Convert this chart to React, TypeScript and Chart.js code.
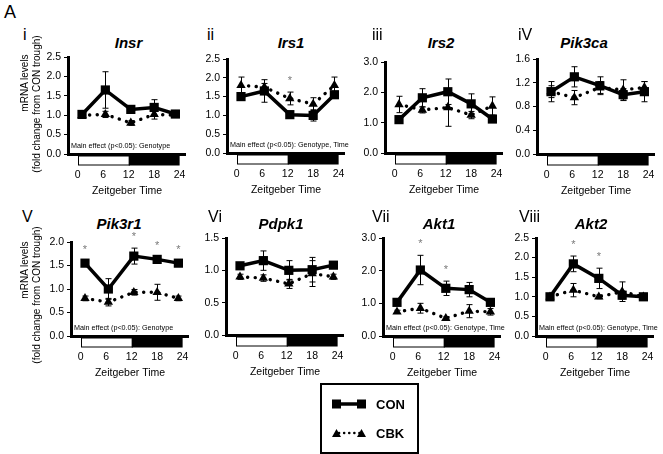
import React, { useEffect, useRef } from 'react';
import { Chart, registerables } from 'chart.js';

Chart.register(...registerables);

const FONT = '"Liberation Sans", Arial, Helvetica, sans-serif';

// ---------- data ----------
const zt = [1, 6.5, 12.5, 18, 23];
const xTicks = [0, 6, 12, 18, 24];
const genes = ['Insr', 'Irs1', 'Irs2', 'Pik3ca', 'Pik3r1', 'Pdpk1', 'Akt1', 'Akt2'];
const numerals = ['i', 'ii', 'iii', 'iV', 'V', 'Vi', 'Vii', 'Viii'];
const yMax = [2.5, 2.5, 3.0, 1.6, 2.0, 1.5, 3.0, 2.5];
const yStep = [0.5, 0.5, 1.0, 0.4, 0.5, 0.5, 1.0, 0.5];
const effects = [
  'Main effect (p<0.05): Genotype',
  'Main effect (p<0.05): Genotype, Time',
  '',
  '',
  'Main effect (p<0.05): Genotype',
  '',
  'Main effect (p<0.05): Genotype, Time',
  'Main effect (p<0.05): Genotype, Time',
];

const insrCON = [1.02, 1.65, 1.15, 1.2, 1.03];
const insrCONerr = [0.06, 0.47, 0.05, 0.2, 0.06];
const insrCBK = [1.0, 1.02, 0.8, 1.02, 1.0];
const insrCBKerr = [0.04, 0.08, 0.06, 0.12, 0.04];
const insrSig: number[] = [];

const irs1CON = [1.5, 1.65, 1.02, 1.0, 1.55];
const irs1CONerr = [0.1, 0.3, 0.05, 0.15, 0.08];
const irs1CBK = [1.8, 1.75, 1.45, 1.3, 1.8];
const irs1CBKerr = [0.22, 0.1, 0.17, 0.17, 0.22];
const irs1Sig = [2];

const irs2CON = [1.1, 1.82, 2.02, 1.62, 1.12];
const irs2CONerr = [0.08, 0.3, 0.42, 0.33, 0.08];
const irs2CBK = [1.6, 1.42, 1.5, 1.25, 1.55];
const irs2CBKerr = [0.27, 0.1, 0.62, 0.12, 0.3];
const irs2Sig: number[] = [];

const pik3caCON = [1.05, 1.3, 1.15, 1.0, 1.05];
const pik3caCONerr = [0.17, 0.17, 0.15, 0.1, 0.17];
const pik3caCBK = [1.05, 0.95, 1.12, 1.08, 1.12];
const pik3caCBKerr = [0.1, 0.12, 0.1, 0.17, 0.1];
const pik3caSig: number[] = [];

const pik3r1CON = [1.55, 1.0, 1.7, 1.63, 1.55];
const pik3r1CONerr = [0.05, 0.22, 0.17, 0.05, 0.05];
const pik3r1CBK = [0.8, 0.72, 0.93, 0.93, 0.8];
const pik3r1CBKerr = [0.05, 0.08, 0.06, 0.17, 0.05];
const pik3r1Sig = [0, 2, 3, 4];

const pdpk1CON = [1.07, 1.15, 1.0, 1.01, 1.08];
const pdpk1CONerr = [0.05, 0.15, 0.15, 0.19, 0.05];
const pdpk1CBK = [0.9, 0.88, 0.79, 0.95, 0.9];
const pdpk1CBKerr = [0.04, 0.05, 0.07, 0.2, 0.04];
const pdpk1Sig: number[] = [];

const akt1CON = [1.03, 2.02, 1.46, 1.42, 1.03];
const akt1CONerr = [0.06, 0.45, 0.22, 0.22, 0.06];
const akt1CBK = [0.74, 0.85, 0.54, 0.76, 0.74];
const akt1CBKerr = [0.05, 0.15, 0.05, 0.2, 0.1];
const akt1Sig = [1, 2];

const akt2CON = [1.0, 1.84, 1.47, 1.04, 1.0];
const akt2CONerr = [0.04, 0.2, 0.26, 0.1, 0.04];
const akt2CBK = [1.0, 1.17, 1.0, 1.13, 1.0];
const akt2CBKerr = [0.04, 0.17, 0.05, 0.25, 0.04];
const akt2Sig = [1, 2];

const conSeries = [insrCON, irs1CON, irs2CON, pik3caCON, pik3r1CON, pdpk1CON, akt1CON, akt2CON];
const conErrs = [insrCONerr, irs1CONerr, irs2CONerr, pik3caCONerr, pik3r1CONerr, pdpk1CONerr, akt1CONerr, akt2CONerr];
const cbkSeries = [insrCBK, irs1CBK, irs2CBK, pik3caCBK, pik3r1CBK, pdpk1CBK, akt1CBK, akt2CBK];
const cbkErrs = [insrCBKerr, irs1CBKerr, irs2CBKerr, pik3caCBKerr, pik3r1CBKerr, pdpk1CBKerr, akt1CBKerr, akt2CBKerr];
const sigs = [insrSig, irs1Sig, irs2Sig, pik3caSig, pik3r1Sig, pdpk1Sig, akt1Sig, akt2Sig];

// ---------- layout (positions only) ----------
const PLOT_W = 123;
const YW = 40;
const PAD_T = 14;
const PAD_R = 10;
const XH = 45;
const layout = [
  { xA: 68, yTop: 57, yBot: 154, titleX: 128.5, numX: 23 },
  { xA: 227, yTop: 59, yBot: 153, titleX: 291, numX: 207 },
  { xA: 385, yTop: 62, yBot: 153, titleX: 441, numX: 372 },
  { xA: 537, yTop: 59, yBot: 154, titleX: 584, numX: 518 },
  { xA: 71, yTop: 242, yBot: 336, titleX: 119, numX: 22 },
  { xA: 226, yTop: 238, yBot: 335, titleX: 281, numX: 208 },
  { xA: 383, yTop: 238, yBot: 336, titleX: 439, numX: 372 },
  { xA: 536, yTop: 238, yBot: 336, titleX: 591, numX: 519 },
];

const extrasPlugin = {
  id: 'extras',
  beforeDatasetsDraw(chart: any, _a: any, opts: any) {
    const { ctx, scales } = chart;
    const x = scales.x;
    const y = scales.y;
    ctx.save();
    ctx.strokeStyle = '#000';
    ctx.lineWidth = 1;
    [[opts.cbk, opts.cbkErr], [opts.con, opts.conErr]].forEach(([vals, errs]: any) => {
      zt.forEach((t, i) => {
        const px = Math.round(x.getPixelForValue(t)) + 0.5;
        const hi = y.getPixelForValue(vals[i] + errs[i]);
        const lo = y.getPixelForValue(vals[i] - errs[i]);
        ctx.beginPath();
        ctx.moveTo(px, hi);
        ctx.lineTo(px, lo);
        ctx.moveTo(px - 3, hi);
        ctx.lineTo(px + 3, hi);
        ctx.moveTo(px - 3, lo);
        ctx.lineTo(px + 3, lo);
        ctx.stroke();
      });
    });
    ctx.restore();
  },
  afterDraw(chart: any, _a: any, opts: any) {
    const { ctx, chartArea, scales } = chart;
    const x = scales.x;
    const y = scales.y;
    const b = chartArea.bottom;
    const x0 = x.getPixelForValue(xTicks[0]);
    const x12 = x.getPixelForValue(xTicks[2]);
    const x24 = x.getPixelForValue(xTicks[4]);
    ctx.save();
    ctx.fillStyle = '#fff';
    ctx.fillRect(x0, b + 2, x12 - x0, 9);
    ctx.strokeStyle = '#000';
    ctx.lineWidth = 1;
    ctx.strokeRect(Math.round(x0) + 0.5, b + 2, x12 - x0, 9);
    ctx.fillStyle = '#000';
    ctx.fillRect(x12, b + 1.5, x24 - x12, 10);

    if (opts.effect) {
      ctx.font = `7.2px ${FONT}`;
      ctx.fillStyle = '#000';
      ctx.textAlign = 'left';
      ctx.textBaseline = 'middle';
      ctx.fillText(opts.effect, chartArea.left + 3, b - 8);
    }
    ctx.font = `11px ${FONT}`;
    ctx.fillStyle = '#7a7a7a';
    ctx.textAlign = 'center';
    ctx.textBaseline = 'middle';
    opts.sig.forEach((i: number) => {
      const top = Math.max(opts.con[i] + opts.conErr[i], opts.cbk[i] + opts.cbkErr[i]);
      ctx.fillText('*', x.getPixelForValue(zt[i]), y.getPixelForValue(top) - 11);
    });
    ctx.restore();
  },
};

function Panel({ idx }: { idx: number }) {
  const ref = useRef<HTMLCanvasElement>(null);
  const L = layout[idx];
  const W = YW + PLOT_W + PAD_R;
  const H = PAD_T + (L.yBot - L.yTop) + XH;
  useEffect(() => {
    const chart = new Chart(ref.current as HTMLCanvasElement, {
      type: 'line',
      data: {
        datasets: [
          {
            label: 'CON',
            data: zt.map((t, i) => ({ x: t, y: conSeries[idx][i] })),
            borderColor: '#000',
            backgroundColor: '#000',
            borderWidth: 3.5,
            pointStyle: 'rect',
            pointRadius: 6.5,
            pointBorderWidth: 0,
            pointBackgroundColor: '#000',
            tension: 0,
          },
          {
            label: 'CBK',
            data: zt.map((t, i) => ({ x: t, y: cbkSeries[idx][i] })),
            borderColor: '#000',
            backgroundColor: '#000',
            borderWidth: 3.4,
            borderDash: [0.1, 7.5],
            borderCapStyle: 'round',
            pointStyle: 'triangle',
            pointRadius: 5.4,
            pointBorderWidth: 0,
            pointBackgroundColor: '#000',
            tension: 0,
          },
        ],
      } as any,
      options: {
        responsive: false,
        animation: false,
        events: [],
        layout: { padding: { top: PAD_T, right: PAD_R, left: 0, bottom: 0 } },
        plugins: {
          legend: { display: false },
          tooltip: { enabled: false },
          extras: {
            con: conSeries[idx],
            conErr: conErrs[idx],
            cbk: cbkSeries[idx],
            cbkErr: cbkErrs[idx],
            sig: sigs[idx],
            effect: effects[idx],
          },
        } as any,
        scales: {
          x: {
            type: 'linear',
            min: -2.3,
            max: 25.5,
            afterBuildTicks: (s: any) => {
              s.ticks = xTicks.map((v) => ({ value: v }));
            },
            afterFit: (s: any) => {
              s.height = XH;
            },
            grid: { display: false, drawTicks: false },
            border: { display: true, color: '#000', width: 3 },
            ticks: {
              padding: 15,
              color: '#000',
              font: { family: FONT, size: 10.5 },
              maxRotation: 0,
              autoSkip: false,
              callback: (v: any) => String(v),
            },
            title: {
              display: true,
              text: 'Zeitgeber Time',
              color: '#000',
              font: { family: FONT, size: 10.5 },
              padding: { top: 0, bottom: 1.5 },
            },
          },
          y: {
            min: 0,
            max: yMax[idx],
            afterFit: (s: any) => {
              s.width = YW;
            },
            ticks: {
              stepSize: yStep[idx],
              color: '#000',
              font: { family: FONT, size: 10.5 },
              padding: 3,
              callback: (v: any) => Number(v).toFixed(1),
            },
            grid: { drawOnChartArea: false, drawTicks: true, tickLength: 4, color: '#000', lineWidth: 1 },
            border: { display: true, color: '#000', width: 3 },
          },
        },
      } as any,
      plugins: [extrasPlugin as any],
    });
    return () => chart.destroy();
  }, [idx]);
  return (
    <canvas
      ref={ref}
      width={W}
      height={H}
      style={{ position: 'absolute', left: L.xA - YW, top: L.yTop - PAD_T, width: W, height: H }}
    />
  );
}

const textBase: React.CSSProperties = {
  position: 'absolute',
  fontFamily: FONT,
  color: '#000',
  lineHeight: 1,
  whiteSpace: 'nowrap',
};

function YTitle({ cx1, cy1, cx2, cy2 }: { cx1: number; cy1: number; cx2: number; cy2: number }) {
  const s: React.CSSProperties = { ...textBase, fontSize: 10, transform: 'translate(-50%, -50%) rotate(-90deg)' };
  return (
    <>
      <div style={{ ...s, left: cx1, top: cy1 }}>mRNA levels</div>
      <div style={{ ...s, left: cx2, top: cy2 }}>(fold change from CON trough)</div>
    </>
  );
}

export default function App() {
  return (
    <div
      style={{
        position: 'absolute',
        left: 0,
        top: 0,
        width: 663,
        height: 454,
        background: '#fff',
        overflow: 'hidden',
      }}
    >
      <div style={{ ...textBase, fontSize: 18, left: 4, top: 3 }}>A</div>
      {layout.map((L, i) => {
        const row = i < 4 ? 0 : 1;
        const numBase = row === 0 ? 40 : 222;
        const titleBase = row === 0 ? 47.5 : 229;
        return (
          <React.Fragment key={i}>
            <div style={{ ...textBase, fontSize: 16, left: L.numX, top: numBase - 13.5 }}>{numerals[i]}</div>
            <div
              style={{
                ...textBase,
                fontSize: 15,
                fontWeight: 'bold',
                fontStyle: 'italic',
                left: L.titleX,
                top: titleBase - 12.7,
                transform: 'translateX(-50%)',
              }}
            >
              {genes[i]}
            </div>
            <Panel idx={i} />
          </React.Fragment>
        );
      })}
      <YTitle cx1={25} cy1={83} cx2={37} cy2={104} />
      <YTitle cx1={25} cy1={270} cx2={37} cy2={295} />
      <div
        style={{
          position: 'absolute',
          left: 320,
          top: 383,
          width: 95,
          height: 67,
          border: '2px solid #000',
          background: '#fff',
        }}
      >
        <svg width={95} height={67} style={{ position: 'absolute', left: 0, top: 0 }}>
          <line x1={14} y1={19} x2={40} y2={19} stroke="#000" strokeWidth={3.5} />
          <rect x={10} y={14.5} width={9} height={9} fill="#000" />
          <rect x={35} y={14.5} width={9} height={9} fill="#000" />
          <line x1={17} y1={48} x2={38} y2={48} stroke="#000" strokeWidth={2.5} strokeDasharray="0.1 5" strokeLinecap="round" />
          <polygon points="10,52 19,52 14.5,44" fill="#000" />
          <polygon points="35,52 44,52 39.5,44" fill="#000" />
        </svg>
        <div style={{ ...textBase, fontSize: 13, fontWeight: 'bold', left: 54, top: 12.5 }}>CON</div>
        <div style={{ ...textBase, fontSize: 13, fontWeight: 'bold', left: 54, top: 41.5 }}>CBK</div>
      </div>
    </div>
  );
}
